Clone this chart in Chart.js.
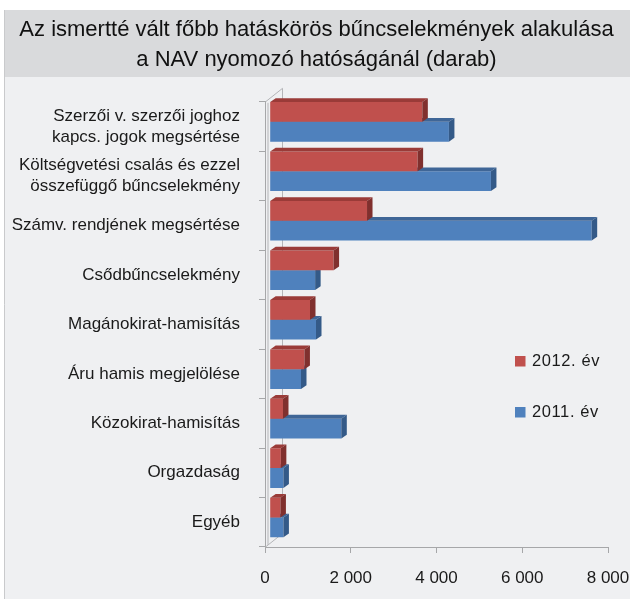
<!DOCTYPE html>
<html>
<head>
<meta charset="utf-8">
<script src="https://cdn.jsdelivr.net/npm/chart.js@4.4.1/dist/chart.umd.min.js"></script>
<style>
  html, body { margin: 0; padding: 0; background: #ffffff; }
  canvas { display: block; }
</style>
</head>
<body>
<canvas id="c" width="630" height="599"></canvas>
<script>
// ---- data ----
const titleLines = ['Az ismertté vált főbb hatáskörös bűncselekmények alakulása', 'a NAV nyomozó hatóságánál (darab)'];
const categories = [
  ['Szerzői v. szerzői joghoz', 'kapcs. jogok megsértése'],
  ['Költségvetési csalás és ezzel', 'összefüggő bűncselekmény'],
  'Számv. rendjének megsértése',
  'Csődbűncselekmény',
  'Magánokirat-hamisítás',
  'Áru hamis megjelölése',
  'Közokirat-hamisítás',
  'Orgazdaság',
  'Egyéb'
];
const seriesNames = ['2012. év', '2011. év'];
const values2012 = [3560, 3450, 2270, 1490, 940, 810, 310, 260, 250];
const values2011 = [4180, 5160, 7510, 1060, 1080, 730, 1670, 320, 320];
const xTicksMin = 0, xTicksMax = 8000, xTickStep = 2000;

// ---- style ----
const FONT = "'Liberation Sans', Arial, sans-serif";
const faceColors = ['#c0504d', '#4f81bd'];
const topColors = ['#9a3b38', '#3f6697'];
const sideColors = ['#80302e', '#345a88'];
const DEPTH = { dx: 4.7, dy: 4.7 };   // offset of the bars' front plane inside the 3D box
const BAR3D = { dx: 5.5, dy: 3.8 };   // depth of each bar
const WALL = { dx: 17, dy: 13.5 };

const bgPlugin = {
  id: 'bg',
  beforeDraw(chart) {
    const ctx = chart.ctx;
    ctx.save();
    ctx.fillStyle = '#ffffff';
    ctx.fillRect(0, 0, chart.width, chart.height);
    ctx.fillStyle = '#eff0f2';
    ctx.fillRect(4, 10, chart.width - 4, chart.height - 10);
    ctx.fillStyle = '#d9dadc';
    ctx.fillRect(4, 10, chart.width - 4, 67);
    ctx.strokeStyle = '#c9cacc';
    ctx.lineWidth = 1;
    ctx.beginPath();
    ctx.moveTo(4.5, 10); ctx.lineTo(4.5, chart.height);
    ctx.stroke();
    ctx.restore();
  }
};

const wallPlugin = {
  id: 'wall',
  beforeDatasetsDraw(chart) {
    const ctx = chart.ctx, a = chart.chartArea;
    ctx.save();
    ctx.strokeStyle = '#b4b5b8';
    ctx.lineWidth = 1;
    const L = Math.round(a.left) + 0.5;
    ctx.beginPath();
    ctx.moveTo(L, a.top); ctx.lineTo(L + WALL.dx, a.top - WALL.dy);
    ctx.lineTo(L + WALL.dx, a.bottom - WALL.dy);
    ctx.moveTo(L, a.bottom); ctx.lineTo(L + WALL.dx, a.bottom - WALL.dy);
    ctx.moveTo(L + 2.5, a.top + 1); ctx.lineTo(L + 2.5, a.bottom - 2);
    ctx.stroke();
    ctx.restore();
  },
  beforeDatasetDraw(chart) {
    chart.ctx.save();
    chart.ctx.translate(DEPTH.dx, -DEPTH.dy);
  },
  afterDatasetDraw(chart, args) {
    const ctx = chart.ctx;
    const i = args.index;
    args.meta.data.forEach(el => {
      const p = el.getProps(['x', 'y', 'base', 'height'], true);
      const top = p.y - p.height / 2, bottom = p.y + p.height / 2;
      const x0 = p.base, x1 = p.x;
      ctx.fillStyle = topColors[i];
      ctx.beginPath();
      ctx.moveTo(x0, top); ctx.lineTo(x0 + BAR3D.dx, top - BAR3D.dy);
      ctx.lineTo(x1 + BAR3D.dx, top - BAR3D.dy); ctx.lineTo(x1, top);
      ctx.closePath(); ctx.fill();
      ctx.fillStyle = sideColors[i];
      ctx.beginPath();
      ctx.moveTo(x1, top); ctx.lineTo(x1 + BAR3D.dx, top - BAR3D.dy);
      ctx.lineTo(x1 + BAR3D.dx, bottom - BAR3D.dy); ctx.lineTo(x1, bottom);
      ctx.closePath(); ctx.fill();
    });
    ctx.restore();
  }
};

const legendPlugin = {
  id: 'customLegend',
  afterDraw(chart) {
    const ctx = chart.ctx;
    ctx.save();
    ctx.font = '16.5px ' + FONT;
    ctx.textBaseline = 'middle';
    ctx.textAlign = 'left';
    const rows = [361, 412];
    chart.data.datasets.forEach((ds, i) => {
      ctx.fillStyle = ds.backgroundColor;
      ctx.fillRect(515, rows[i] - 5, 10.5, 10.5);
      ctx.fillStyle = '#1a1a1a';
      if ('letterSpacing' in ctx) ctx.letterSpacing = '0.6px';
      ctx.fillText(ds.label, 532, rows[i] + 0.5);
    });
    ctx.restore();
  }
};

new Chart(document.getElementById('c'), {
  type: 'bar',
  data: {
    labels: categories,
    datasets: [
      { label: seriesNames[0], data: values2012, backgroundColor: faceColors[0] },
      { label: seriesNames[1], data: values2011, backgroundColor: faceColors[1] }
    ]
  },
  options: {
    indexAxis: 'y',
    responsive: false,
    animation: false,
    devicePixelRatio: 1,
    layout: { padding: { top: 10, right: 0, bottom: 0, left: 3 } },
    categoryPercentage: 0.8,
    barPercentage: 1.0,
    plugins: {
      legend: { display: false },
      tooltip: { enabled: false },
      title: {
        display: true,
        text: titleLines,
        color: '#111111',
        font: { family: FONT, size: 22, weight: 'normal', lineHeight: 1.36 },
        padding: { top: 5, bottom: 27 }
      }
    },
    scales: {
      y: {
        grid: { drawOnChartArea: false, drawTicks: true, tickLength: 6, color: '#a6a7a9' },
        border: { display: true, color: '#a6a7a9' },
        ticks: {
          color: '#1a1a1a', padding: 19,
          font: { family: FONT, size: 17, lineHeight: 1.25 }
        },
        afterFit(scale) { scale.width = 262; }
      },
      x: {
        min: xTicksMin, max: xTicksMax,
        grid: { drawOnChartArea: false, drawTicks: true, tickLength: 6, color: '#a6a7a9' },
        border: { display: true, color: '#a6a7a9' },
        ticks: {
          stepSize: xTickStep, color: '#1a1a1a', padding: 15, maxRotation: 0,
          font: { family: FONT, size: 17 },
          callback: v => String(v).replace(/\B(?=(\d{3})+(?!\d))/g, ' ')
        },
        afterFit(scale) { scale.height = 52; scale.paddingRight = 22; scale.paddingLeft = 0; }
      }
    }
  },
  plugins: [bgPlugin, wallPlugin, legendPlugin]
});
</script>
</body>
</html>
